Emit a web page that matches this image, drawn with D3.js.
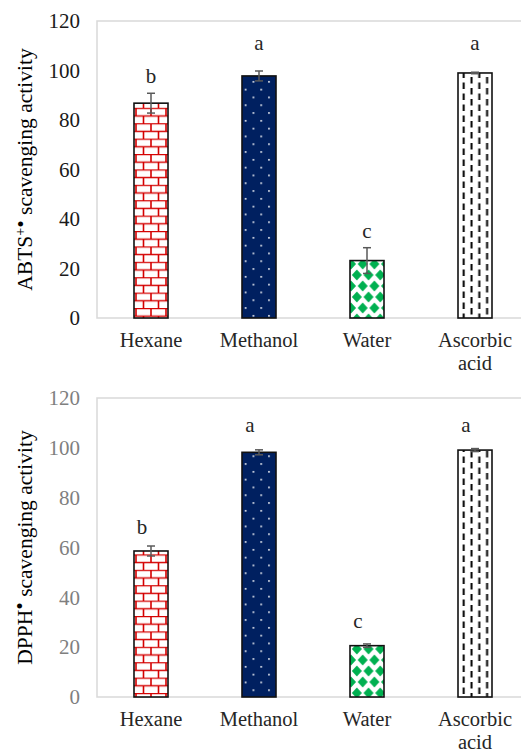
<!DOCTYPE html>
<html>
<head>
<meta charset="utf-8">
<script src="https://cdn.jsdelivr.net/npm/d3@7"></script>
<style>
  body { margin: 0; background: #fff; }
  text { font-family: "Liberation Serif", "Times New Roman", serif; }
</style>
</head>
<body>
<div id="chart"></div>
<script>
// Data
var categories = ["Hexane", "Methanol", "Water", "Ascorbic acid"];
var yTicks = [0, 20, 40, 60, 80, 100, 120];

var abtsMean = [86.8, 97.8, 23.2, 99.0];
var abtsErr = [4.0, 2.0, 5.2, 0.3];
var abtsLetters = ["b", "a", "c", "a"];
var abtsLetterAt = [95, 108.3, 32.3, 108.3];

var dpphMean = [58.6, 98.2, 20.6, 99.1];
var dpphErr = [2.0, 1.0, 0.7, 0.6];
var dpphLetters = ["b", "a", "c", "a"];
var dpphLetterAt = [65.5, 106.5, 27.7, 106.5];

var svgWidth = 521;
var svgHeight = 755;

var svg = d3.select("#chart")
  .append("svg")
  .attr("width", svgWidth)
  .attr("height", svgHeight);

// Fill patterns, one per solvent
var defs = svg.append("defs");

var brick = defs.append("pattern")
  .attr("id", "brick")
  .attr("patternUnits", "userSpaceOnUse")
  .attr("width", 15).attr("height", 15.4);
brick.append("rect").attr("width", 15).attr("height", 15.4).attr("fill", "#fff");
brick.append("path")
  .attr("d", "M0,0.5H15M0,8.2H15M1,0.5V8.2M8.5,8.2V15.4")
  .attr("stroke", "#d40000").attr("stroke-width", 1.6).attr("fill", "none");

var dots = defs.append("pattern")
  .attr("id", "dots")
  .attr("patternUnits", "userSpaceOnUse")
  .attr("width", 15.6).attr("height", 15.6);
dots.append("rect").attr("width", 15.6).attr("height", 15.6).attr("fill", "#002060");
dots.append("rect").attr("x", 3).attr("y", 3).attr("width", 1.6).attr("height", 1.6).attr("fill", "#fff");
dots.append("rect").attr("x", 10.8).attr("y", 10.8).attr("width", 1.6).attr("height", 1.6).attr("fill", "#fff");

// green diamonds in offset rows
var dw = 11.7, dh = 22, rx = 5, ry = 5.5;
function dia(cx, cy) {
  return `M${cx},${cy - ry}L${cx + rx},${cy}L${cx},${cy + ry}L${cx - rx},${cy}Z`;
}
var diamond = defs.append("pattern")
  .attr("id", "diamond")
  .attr("patternUnits", "userSpaceOnUse")
  .attr("width", dw).attr("height", dh);
diamond.append("rect").attr("width", dw).attr("height", dh).attr("fill", "#fff");
diamond.append("path")
  .attr("d", dia(0, 0) + dia(dw, 0) + dia(dw / 2, dh / 2) + dia(0, dh) + dia(dw, dh))
  .attr("fill", "#00b050");

var dashes = defs.append("pattern")
  .attr("id", "dashes")
  .attr("patternUnits", "userSpaceOnUse")
  .attr("width", 15.6).attr("height", 11);
dashes.append("rect").attr("width", 15.6).attr("height", 11).attr("fill", "#fff");
dashes.append("path")
  .attr("d", "M3.5,0V6.5M11.3,5.5V12M11.3,-5.5V1")
  .attr("stroke", "#000").attr("stroke-width", 2).attr("fill", "none");

var fills = ["url(#brick)", "url(#dots)", "url(#diamond)", "url(#dashes)"];

function drawPanel(opts) {
  var g = svg.append("g");

  var x = d3.scaleBand()
    .domain(categories)
    .range([97, 529])
    .padding(0);

  var y = d3.scaleLinear()
    .domain([0, 120])
    .range([opts.bottom, opts.top]);

  var barW = 34;

  // plot area frame
  g.append("rect")
    .attr("x", 97).attr("y", y(120))
    .attr("width", 440).attr("height", y(0) - y(120))
    .attr("fill", "none")
    .attr("stroke", "#d9d9d9")
    .attr("stroke-width", 1.5);

  // y axis
  var leftAxis = d3.axisLeft(y).tickValues(yTicks).tickSize(0).tickPadding(8);
  var yAxis = g.append("g")
    .attr("transform", "translate(88,0)")
    .call(leftAxis);
  yAxis.select(".domain").remove();
  yAxis.selectAll("text")
    .attr("font-size", "21px")
    .attr("font-family", "Liberation Serif, serif")
    .attr("fill", opts.tickColor);

  // bars
  var rows = categories.map(function(c, i) {
    return { cat: c, mean: opts.mean[i], err: opts.err[i], letter: opts.letters[i], at: opts.letterAt[i], fill: fills[i] };
  });

  g.selectAll(".bar")
    .data(rows)
    .enter()
    .append("rect")
    .attr("class", "bar")
    .attr("x", d => x(d.cat) + x.bandwidth() / 2 - barW / 2)
    .attr("y", d => y(d.mean))
    .attr("width", barW)
    .attr("height", d => y(0) - y(d.mean))
    .attr("fill", d => d.fill)
    .attr("stroke", "#111")
    .attr("stroke-width", 1.6);

  // error bars
  var eb = g.selectAll(".err")
    .data(rows)
    .enter()
    .append("g")
    .attr("class", "err")
    .attr("stroke", "#595959")
    .attr("stroke-width", 1.5);
  eb.append("line")
    .attr("x1", d => x(d.cat) + x.bandwidth() / 2)
    .attr("x2", d => x(d.cat) + x.bandwidth() / 2)
    .attr("y1", d => y(d.mean + d.err))
    .attr("y2", d => y(d.mean - d.err));
  eb.append("line")
    .attr("x1", d => x(d.cat) + x.bandwidth() / 2 - 4)
    .attr("x2", d => x(d.cat) + x.bandwidth() / 2 + 4)
    .attr("y1", d => y(d.mean + d.err))
    .attr("y2", d => y(d.mean + d.err));
  eb.append("line")
    .attr("x1", d => x(d.cat) + x.bandwidth() / 2 - 4)
    .attr("x2", d => x(d.cat) + x.bandwidth() / 2 + 4)
    .attr("y1", d => y(d.mean - d.err))
    .attr("y2", d => y(d.mean - d.err));

  // significance letters
  g.selectAll(".letter")
    .data(rows)
    .enter()
    .append("text")
    .attr("class", "letter")
    .attr("x", d => x(d.cat) + x.bandwidth() / 2 + opts.letterDx)
    .attr("y", d => y(d.at))
    .attr("text-anchor", "middle")
    .attr("font-size", "21px")
    .attr("fill", "#262626")
    .text(d => d.letter);

  // category labels, one text per line so "Ascorbic" / "acid" stack
  categories.forEach(function(c) {
    var words = c === "Ascorbic acid" ? ["Ascorbic", "acid"] : [c];
    words.forEach(function(w, k) {
      g.append("text")
        .attr("class", "cat")
        .attr("x", x(c) + x.bandwidth() / 2)
        .attr("y", opts.bottom + 29 + k * 23)
        .attr("text-anchor", "middle")
        .attr("font-size", "20.5px")
        .attr("fill", "#262626")
        .text(w);
    });
  });

  // y axis title
  var title = g.append("text")
    .attr("transform", `translate(32, ${(opts.top + opts.bottom) / 2}) rotate(-90)`)
    .attr("text-anchor", "middle")
    .attr("font-size", "21.5px")
    .attr("fill", "#000");
  opts.title(title);
}

drawPanel({
  top: 21, bottom: 318,
  mean: abtsMean, err: abtsErr, letters: abtsLetters, letterAt: abtsLetterAt,
  letterDx: 0,
  tickColor: "#1a1a1a",
  title: function(t) {
    t.append("tspan").text("ABTS");
    t.append("tspan").attr("font-size", "14px").attr("dy", -7).text("+");
    t.append("tspan").attr("dy", 3).text("•");
    t.append("tspan").attr("dy", 4).text(" scavenging activity");
  }
});

drawPanel({
  top: 398, bottom: 697,
  mean: dpphMean, err: dpphErr, letters: dpphLetters, letterAt: dpphLetterAt,
  letterDx: -9,
  tickColor: "#7f7f7f",
  title: function(t) {
    t.append("tspan").text("DPPH");
    t.append("tspan").attr("dy", -5).text("•");
    t.append("tspan").attr("dy", 5).text(" scavenging activity");
  }
});
</script>
</body>
</html>
